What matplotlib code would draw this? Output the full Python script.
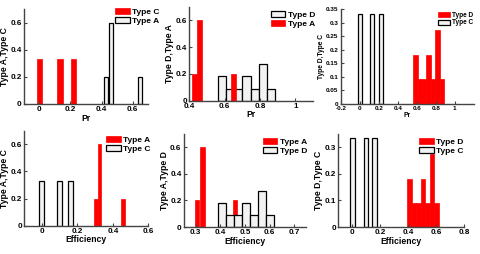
import matplotlib
matplotlib.use("Agg")
import matplotlib.pyplot as plt
from matplotlib.ticker import FuncFormatter

plt.rcParams['font.family'] = ['Liberation Sans', 'DejaVu Sans']
plt.rcParams['font.weight'] = 'bold'

# ---- data (bin centres and normalised counts) ----
typeC_pr = [0.0, 0.133, 0.222]
typeC_pr_h = [1/3, 1/3, 1/3]
typeA_pr = [0.43, 0.458, 0.649]
typeA_pr_h = [0.2, 0.6, 0.2]
typeD_pr = [0.586, 0.632, 0.678, 0.724, 0.770, 0.817, 0.863]
typeD_pr_h = [2/11, 1/11, 1/11, 2/11, 1/11, 3/11, 1/11]

typeC_eff = [0.0, 0.099, 0.16]
typeC_eff_h = [1/3, 1/3, 1/3]
typeA_eff = [0.305, 0.326, 0.459]
typeA_eff_h = [0.2, 0.6, 0.2]
typeD_eff = [0.408, 0.440, 0.472, 0.504, 0.536, 0.568, 0.600]
typeD_eff_h = [2/11, 1/11, 1/11, 2/11, 1/11, 3/11, 1/11]

RED = dict(color='#ff0000', edgecolor='#ff0000', linewidth=0.5)
WHT = dict(color='#f2f2f2', edgecolor='#000000', linewidth=0.9)

fig = plt.figure(figsize=(4.8, 2.54), dpi=100)

def px_axes(l, r, t, b):
    return fig.add_axes([l/480, 1 - b/254, (r-l)/480, (b-t)/254])

fmt = FuncFormatter(lambda v, p: '%g' % round(v, 4))

def style(ax, xlim, ylim, xt, yt, xlabel, ylabel, fs, lfs):
    ax.set_xlim(*xlim); ax.set_ylim(*ylim)
    ax.set_xticks(xt); ax.set_yticks(yt)
    ax.xaxis.set_major_formatter(fmt); ax.yaxis.set_major_formatter(fmt)
    for s in ['top', 'right']:
        ax.spines[s].set_visible(False)
    for s in ['left', 'bottom']:
        ax.spines[s].set_color('#444444')
        ax.spines[s].set_linewidth(1.0)
    ax.tick_params(direction='in', length=2, width=0.8, labelsize=fs, pad=1.5, colors='#444444', labelcolor='black')
    for lab in ax.get_xticklabels() + ax.get_yticklabels():
        lab.set_fontweight('bold')
    ax.set_xlabel(xlabel, fontsize=lfs, fontweight='bold', labelpad=0.5)
    ax.set_ylabel(ylabel, fontsize=lfs, fontweight='bold', labelpad=1)

def leg(ax, handles, labels, x, y, fs):
    ax.legend(handles, labels, loc='upper left', bbox_to_anchor=(x/480, 1 - y/254),
              bbox_transform=fig.transFigure, frameon=False, fontsize=fs,
              handlelength=1.75, handleheight=0.75, handletextpad=0.3,
              labelspacing=0.12, borderpad=0, borderaxespad=0,
              prop=dict(weight='bold', size=fs))

# Panel 1
ax = px_axes(23.7, 148.2, 9.5, 104)
hC = ax.bar(typeC_pr, typeC_pr_h, width=0.034, **RED)
hA = ax.bar(typeA_pr, typeA_pr_h, width=0.026, **WHT)
style(ax, (-0.1, 0.7), (0, 0.7), [0, 0.2, 0.4, 0.6], [0, 0.2, 0.4, 0.6], 'Pr', 'Type A,Type C', 5.8, 6.2)
leg(ax, [hC, hA], ['Type C', 'Type A'], 115, 8, 6.0)

# Panel 2
ax = px_axes(189.3, 313, 7, 100.7)
hD = ax.bar(typeD_pr, typeD_pr_h, width=0.046, **WHT)
hA = ax.bar(typeA_pr, typeA_pr_h, width=0.029, **RED)
style(ax, (0.4, 1.1), (0, 0.7), [0.4, 0.6, 0.8, 1.0], [0, 0.2, 0.4, 0.6], 'Pr', 'Type D,Type A', 5.8, 6.2)
leg(ax, [hD, hA], ['Type D', 'Type A'], 270.7, 10.7, 6.0)

# Panel 3
ax = px_axes(340.7, 473.7, 9.3, 104)
hC = ax.bar(typeC_pr, typeC_pr_h, width=0.045, **WHT)
hD = ax.bar(typeD_pr, typeD_pr_h, width=0.046, **RED)
style(ax, (-0.2, 1.2), (0, 0.35), [-0.2, 0, 0.2, 0.4, 0.6, 0.8, 1.0],
      [0, 0.05, 0.1, 0.15, 0.2, 0.25, 0.3, 0.35], 'Pr', 'Type D,Type C', 4.6, 4.8)
leg(ax, [hD, hC], ['Type D', 'Type C'], 438.3, 11.7, 4.7)

# Panel 4
ax = px_axes(23.9, 148.3, 130.8, 225.7)
hC = ax.bar(typeC_eff, typeC_eff_h, width=0.028, **WHT)
hA = ax.bar(typeA_eff, typeA_eff_h, width=0.02, **RED)
style(ax, (-0.1, 0.6), (0, 0.7), [0, 0.2, 0.4, 0.6], [0, 0.2, 0.4, 0.6], 'Efficiency', 'Type A,Type C', 5.8, 6.2)
leg(ax, [hA, hC], ['Type A', 'Type C'], 106, 136.3, 6.0)

# Panel 5
ax = px_axes(183.5, 306.5, 133.7, 227)
hA = ax.bar(typeA_eff, typeA_eff_h, width=0.019, **RED)
hD = ax.bar(typeD_eff, typeD_eff_h, width=0.032, **WHT)
style(ax, (0.25, 0.75), (0, 0.7), [0.3, 0.4, 0.5, 0.6, 0.7], [0, 0.2, 0.4, 0.6], 'Efficiency', 'Type A,Type D', 5.8, 6.2)
leg(ax, [hA, hD], ['Type A', 'Type D'], 262.7, 137.7, 6.0)

# Panel 6
ax = px_axes(338.3, 464.3, 133.7, 227)
hC = ax.bar(typeC_eff, typeC_eff_h, width=0.032, **WHT)
hD = ax.bar(typeD_eff, typeD_eff_h, width=0.032, **RED)
style(ax, (-0.1, 0.8), (0, 0.35), [0, 0.2, 0.4, 0.6, 0.8], [0, 0.1, 0.2, 0.3], 'Efficiency', 'Type D,Type C', 5.8, 6.2)
leg(ax, [hD, hC], ['Type D', 'Type C'], 419.3, 137.7, 6.0)

fig.savefig('out.png', dpi=100, facecolor='white')
